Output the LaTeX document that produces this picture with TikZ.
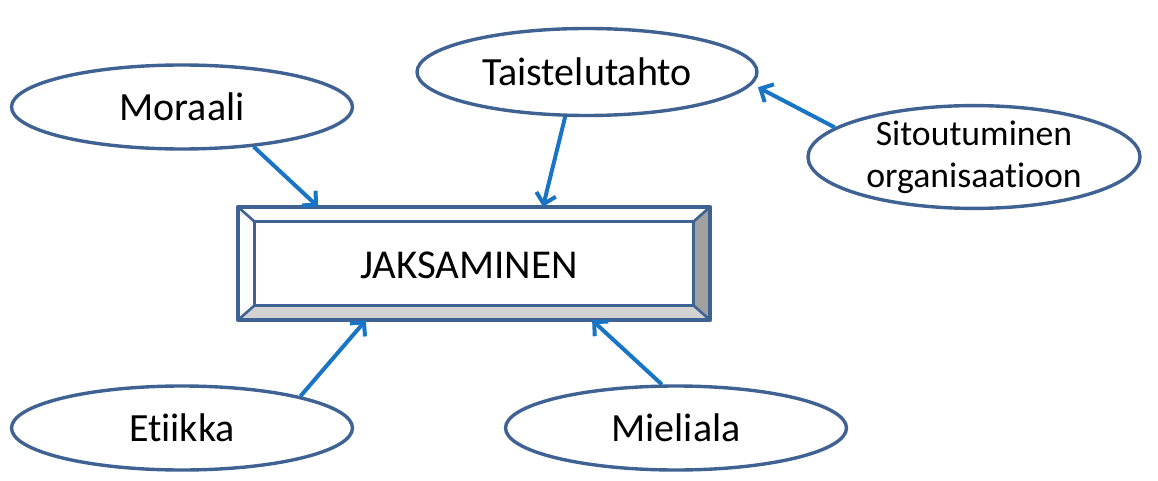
\documentclass[tikz,border=0pt]{standalone}
\usepackage{fontspec}
\setmainfont{Carlito}[Ligatures=NoCommon]
\usetikzlibrary{shapes.geometric,arrows.meta,calc}
\definecolor{edgeblue}{HTML}{3F6293}
\definecolor{arrowblue}{HTML}{1874C4}
\definecolor{bevelgray}{HTML}{A0A0A0}
\definecolor{bevellight}{HTML}{D2D2D2}
\begin{document}
\begin{tikzpicture}[x=1pt,y=-1pt,
  idea/.style={ellipse,draw=edgeblue,line width=3.4pt,fill=white,
    minimum width=#1,minimum height=84,inner sep=0pt,font=\fontsize{40}{44}\selectfont},
  idea/.default=341,
  link/.style={draw=arrowblue,line width=4pt,
    -{Straight Barb[length=10pt,width=20pt,line width=4pt]}}]
\useasboundingbox (0,0) rectangle (1158,481);

% central bevelled box
\node[rectangle,minimum width=472,minimum height=113,inner sep=0pt] (jak) at (474,263.5) {};
\coordinate (iNW) at ($(jak.north west)+(17,15)$);
\coordinate (iNE) at ($(jak.north east)+(-17,15)$);
\coordinate (iSW) at ($(jak.south west)+(17,-15)$);
\coordinate (iSE) at ($(jak.south east)+(-17,-15)$);
\fill[bevelgray] (jak.north east) -- (jak.south east) -- (iSE) -- (iNE) -- cycle;
\fill[bevellight] (jak.south west) -- (jak.south east) -- (iSE) -- (iSW) -- cycle;
\draw[edgeblue,line width=3.6pt,line join=round] (jak.north west) rectangle (jak.south east);
\draw[edgeblue,line width=3pt] (iNW) rectangle (iSE);
\draw[edgeblue,line width=2.6pt] (jak.north west) -- (iNW) (jak.north east) -- (iNE)
  (jak.south west) -- (iSW) (jak.south east) -- (iSE);
\node[font=\fontsize{41}{44}\selectfont] at ($(jak.center)+(-5,2)$) {JAKSAMINEN};

% surrounding ideas
\node[idea] (mor) at (182,107) {Moraali};
\node[idea=340,minimum height=87] (tai) at (587,72) {Taistelutahto};
\node[idea=332,minimum height=87,align=center,
  font=\fontsize{35.7}{42}\selectfont] (sit) at (974,157) {Sitoutuminen\\organisaatioon};
\node[idea] (eti) at (182,428) {Etiikka};
\node[idea] (mie) at (676,428) {Mieliala};

% arrows into the box
\draw[link] (mor.-29) -- ($(jak.north west)!0.17!(jak.north east)$);
\draw[link] (tai.-116) -- ($(jak.north west)!0.646!(jak.north east)$);
\draw[link] (sit.168) -- ($(tai.-5)+(8,1)$);
\draw[link] (eti.15) -- ($(jak.south west)!0.271!(jak.south east)$);
\draw[link] (mie.108) -- ($(jak.south west)!0.75!(jak.south east)$);
\end{tikzpicture}
\end{document}
